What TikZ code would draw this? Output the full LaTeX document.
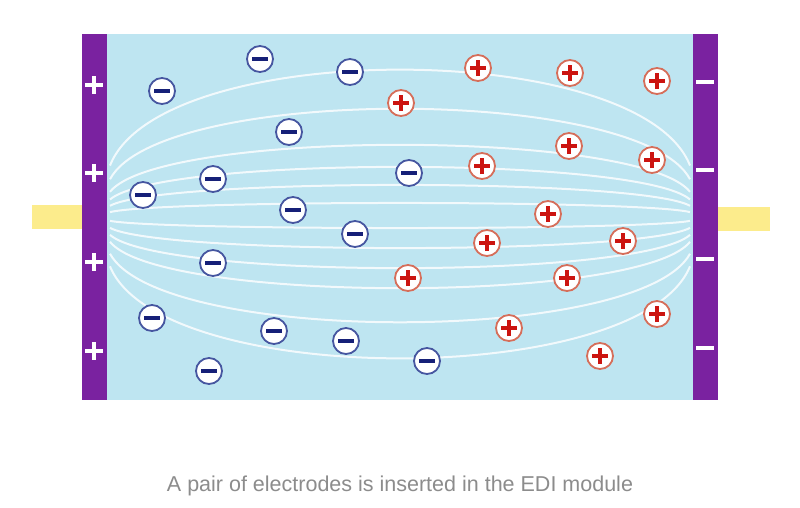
\documentclass[tikz,border=0pt]{standalone}
\usepackage{fontspec}
\setmainfont{Liberation Sans}
\usetikzlibrary{positioning}
\definecolor{cellblue}{RGB}{190,229,241}
\definecolor{electrode}{RGB}{122,34,160}
\definecolor{leadyellow}{RGB}{252,236,140}
\definecolor{anionblue}{RGB}{70,86,160}
\definecolor{anionbar}{RGB}{22,32,120}
\definecolor{cationring}{RGB}{214,110,90}
\definecolor{cationred}{RGB}{204,20,16}
\definecolor{captiongray}{RGB}{140,140,140}
\tikzset{
  anion/.style={circle,draw=anionblue,line width=1.8pt,fill=white,
    minimum size=26pt,inner sep=0pt,
    path picture={\fill[anionbar] ([xshift=-8pt,yshift=-2.2pt]path picture bounding box.center)
      rectangle ([xshift=8pt,yshift=2.2pt]path picture bounding box.center);}},
  cation/.style={circle,draw=cationring,line width=1.8pt,fill=white,
    minimum size=26pt,inner sep=0pt,
    path picture={\draw[cationred,line width=4pt]
      ([xshift=-8pt]path picture bounding box.center) -- ([xshift=8pt]path picture bounding box.center)
      ([yshift=-8pt]path picture bounding box.center) -- ([yshift=8pt]path picture bounding box.center);}},
  fieldline/.style={white,opacity=0.8,line width=2pt},
  sign/.style={white,line width=4pt}
}
\begin{document}
\begin{tikzpicture}[x=1pt,y=-1pt]
  \useasboundingbox[fill=white] (0,0) rectangle (800,507);
  % cell and leads
  \fill[leadyellow] (32,205) rectangle (82,229);
  \fill[leadyellow] (718,207) rectangle (770,231);
  \fill[cellblue] (107,34) rectangle (693,400);
  % field lines
  \foreach \o in {-147,-108,-72,-50,-32,-14,11,31,51,71,105,141}
    \draw[fieldline] (110,{217+0.35*\o}) .. controls (160,{217+1.22*\o}) and (640,{217+1.22*\o}) .. (690,{217+0.35*\o});
  % electrodes
  \fill[electrode] (82,34) rectangle (107,400);
  \fill[electrode] (693,34) rectangle (718,400);
  \foreach \y in {85,173,262,351} {
    \draw[sign] (85,\y) -- (103,\y) (94,\y-9) -- (94,\y+9);
    \draw[sign] (696,\y-3) -- (714,\y-3);
  }
  % ions
  \foreach \x/\y [count=\i] in {162/91,260/59,350/72,289/132,213/179,143/195,293/210,409/173,
      355/234,213/263,152/318,274/331,346/341,427/361,209/371}
    \node[anion] (an\i) at (\x,\y) {};
  \foreach \x/\y [count=\i] in {478/68,570/73,657/81,401/103,569/146,482/166,652/160,548/214,
      487/243,623/241,408/278,567/278,509/328,657/314,600/356}
    \node[cation] (cat\i) at (\x,\y) {};
  % caption
  \node[captiongray,font=\fontsize{21.5}{24}\selectfont] (caption) at (400,486)
    {A pair of electrodes is inserted in the EDI module};
\end{tikzpicture}
\end{document}
